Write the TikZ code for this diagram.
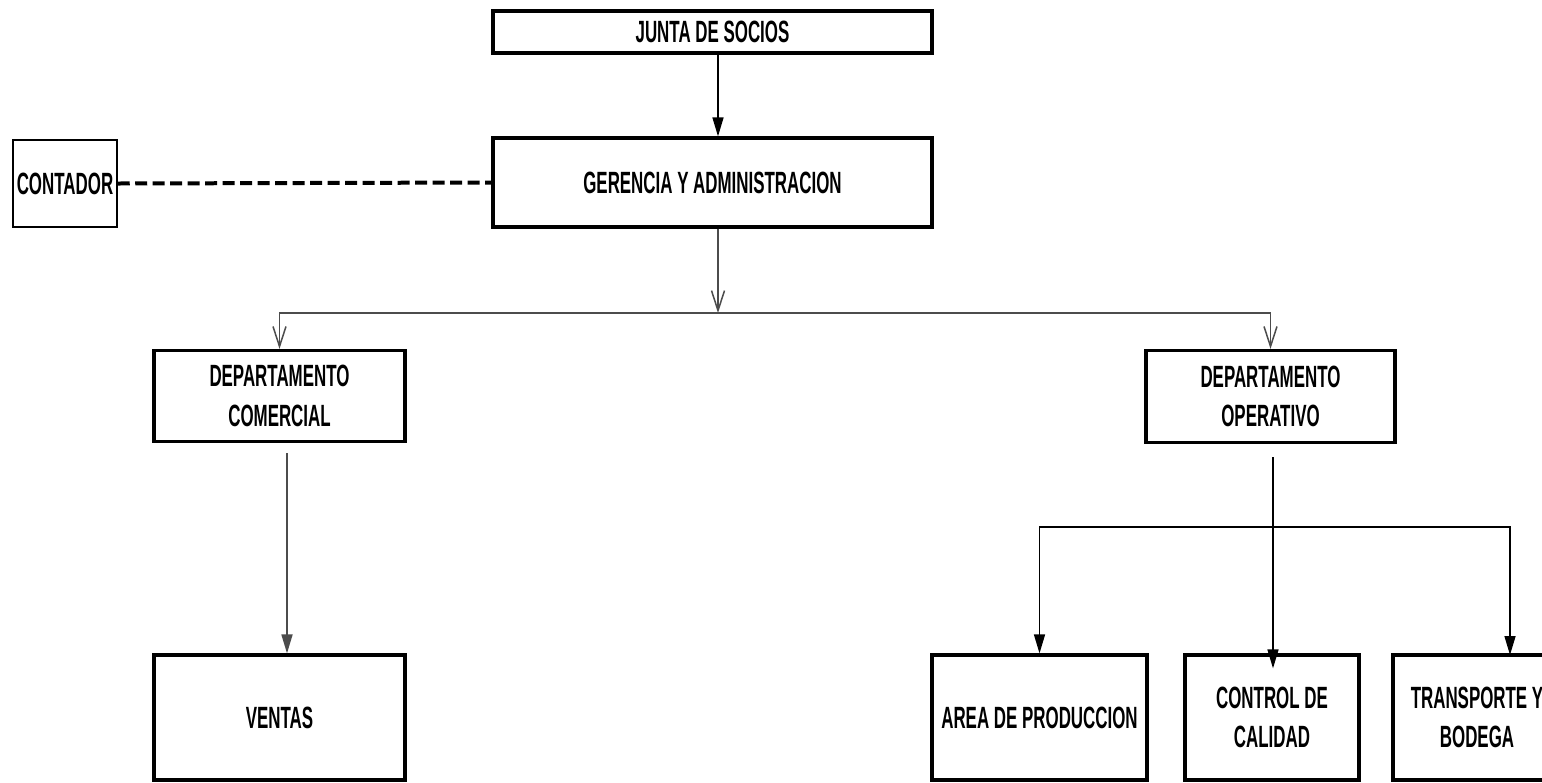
\documentclass[tikz,border=0pt]{standalone}
\usepackage{fontspec}
\setmainfont{Liberation Sans}[FakeStretch=0.55]
\usetikzlibrary{arrows.meta}
\tikzset{
  orgbox/.style={draw, line width=0.065cm, inner sep=0pt, align=center,
    font=\fontsize{17.5}{22.5}\selectfont\bfseries},
  thinbox/.style={draw, line width=0.03cm, inner sep=0pt, align=center,
    font=\fontsize{17.5}{22.5}\selectfont\bfseries},
  link/.style={line width=0.03cm, black},
  greylink/.style={line width=0.035cm, black!70},
  vtip/.style={-{Straight Barb[length=0.4cm,width=0.26cm,line width=0.03cm]}},
  ftip/.style={-{Triangle[length=0.38cm,width=0.22cm]}},
  staff/.style={line width=0.08cm, dash pattern=on 0.24cm off 0.11cm},
}
\begin{document}
\begin{tikzpicture}[x=0.02cm, y=-0.02cm]
\clip (0,0) rectangle (1542,782);
\fill[white] (0,0) rectangle (1542,782);
% nodes
\node[orgbox, minimum width=439*0.02cm, minimum height=42*0.02cm] (junta) at (712.5,32) {JUNTA DE SOCIOS};
\node[orgbox, minimum width=439*0.02cm, minimum height=89*0.02cm] (ger) at (712.5,182.5) {GERENCIA Y ADMINISTRACION};
\node[thinbox, minimum width=104*0.02cm, minimum height=87*0.02cm] (cont) at (65,183.5) {CONTADOR};
\node[orgbox, minimum width=251*0.02cm, minimum height=91*0.02cm] (com) at (279.5,396) {DEPARTAMENTO\\COMERCIAL};
\node[orgbox, minimum width=249*0.02cm, minimum height=92*0.02cm] (oper) at (1270.5,396.5) {DEPARTAMENTO\\OPERATIVO};
\node[orgbox, minimum width=251*0.02cm, minimum height=125*0.02cm] (ven) at (279.5,717.5) {VENTAS};
\node[orgbox, minimum width=215*0.02cm, minimum height=125*0.02cm] (area) at (1039.5,717.5) {AREA DE PRODUCCION};
\node[orgbox, minimum width=174*0.02cm, minimum height=125*0.02cm] (ctrl) at (1272,717.5) {CONTROL DE\\CALIDAD};
\node[orgbox, minimum width=168*0.02cm, minimum height=125*0.02cm] (trans) at (1477,717.5) {TRANSPORTE Y\\BODEGA};
% junction points
\coordinate (bar1) at (718,313);
\coordinate (bar2) at (1273,527);
\coordinate (tdrop) at (1510,655);
% connectors
\draw[link, ftip] (junta.south -| bar1) -- (ger.north -| bar1);
\draw[staff] (cont.east) -- (ger.west);
\draw[greylink, vtip] (ger.south -| bar1) -- (bar1);
\draw[greylink, vtip] (bar1) -| (com.north);
\draw[greylink, vtip] (bar1) -| (oper.north);
\draw[greylink, ftip, shorten <=0.2cm] ([xshift=0.15cm]com.south) -- ([xshift=0.15cm]ven.north);
\draw[link, ftip, shorten <=0.26cm, shorten >=-0.3cm] (oper.south -| bar2) -- (ctrl.north -| bar2);
\draw[link, {Triangle[length=0.38cm,width=0.22cm]}-{Triangle[length=0.38cm,width=0.22cm]}] (area.north) |- (bar2) -| (tdrop);
\end{tikzpicture}
\end{document}
